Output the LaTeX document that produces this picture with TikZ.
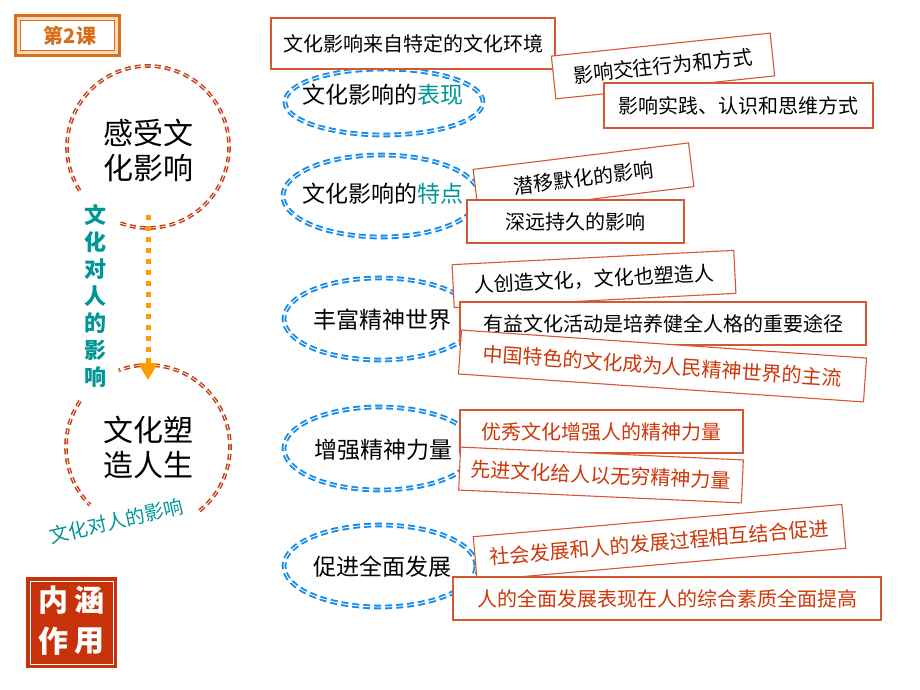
\documentclass[tikz,border=0pt]{standalone}
\usepackage{fontspec}
\setmainfont{Noto Sans CJK SC}
\usetikzlibrary{arrows.meta}
\definecolor{cred}{RGB}{200,60,15}
\definecolor{eblue}{RGB}{20,140,235}
\definecolor{bord}{RGB}{214,88,48}
\definecolor{rtext}{RGB}{205,55,10}
\definecolor{tealc}{RGB}{0,150,150}
\definecolor{aorange}{RGB}{255,155,0}
\definecolor{badgec}{RGB}{215,110,25}
\definecolor{badgeband}{RGB}{248,218,185}
\definecolor{sealc}{RGB}{200,50,10}
\newcommand\myfs[2]{\fontsize{#1}{#2}\selectfont}
\tikzset{
  circdash/.style={draw=cred, line width=1.5pt, double=white, double distance=0.7pt, dash pattern=on 6pt off 4pt},
  elldash/.style={draw=eblue, line width=1.9pt, double=white, double distance=0.9pt, dash pattern=on 7pt off 4pt},
  box/.style={draw=bord, line width=1.1pt, fill=white, inner sep=0pt, font=\myfs{20}{24}},
  rbox/.style={box, text=rtext},
  elltext/.style={font=\myfs{23}{27}, inner sep=0pt},
  circtext/.style={font=\myfs{30}{35}, align=center, inner sep=0pt},
  arr/.style={draw=aorange, line width=5pt, dash pattern=on 5pt off 6pt, -{Triangle[length=17pt,width=19pt]}},
}
\begin{document}
\begin{tikzpicture}[x=1pt,y=1pt]
\useasboundingbox (0,0) rectangle (920,-690);
\fill[white] (0,0) rectangle (920,-690);

% badge top-left
\draw[badgec, line width=2.6pt, fill=badgeband] (15.3,-15.3) rectangle (119.7,-55.7);
\draw[badgec, line width=1.8pt, fill=white] (20.5,-20.5) rectangle (114.5,-50.5);
\node[font=\myfs{20}{24}\bfseries, text=badgec, inner sep=0pt] (badge) at (70,-36) {第2课};

% circle 1
\draw[circdash] (148,-147) ++(250:81) arc[start angle=250, end angle=573, radius=81];
\node[circtext] (c1) at (148,-150) {感受文\\化影响};

% circle 2
\draw[circdash] (148,-447) ++(309:82) arc[start angle=309, end angle=471, radius=82];
\draw[circdash] (148,-447) ++(146:82) arc[start angle=146, end angle=225, radius=82];
\node[circtext] (c2) at (148,-447.5) {文化塑\\造人生};

% vertical teal text
\node[font=\myfs{22}{27}\bfseries, text=tealc, align=center, inner sep=0pt] (vt) at (95,-296) {文\\化\\对\\人\\的\\影\\响};

% arrow
\coordinate (as) at (148,-215);
\coordinate (ae) at (148,-380);
\draw[arr] (as) -- (ae);

% slanted teal text
\node[font=\myfs{19.5}{23}, text=tealc, rotate=13, inner sep=0pt] (st) at (116,-521) {文化对人的影响};

% seal badge
\fill[sealc] (26,-577) rectangle (117,-668);
\draw[white, line width=0.7pt] (30,-581) rectangle (113,-664);
\node[font=\myfs{30}{34}\bfseries, text=white, inner sep=0pt] (s1) at (53,-600) {内};
\node[font=\myfs{30}{34}\bfseries, text=white, inner sep=0pt] (s2) at (89,-600) {涵};
\node[font=\myfs{30}{34}\bfseries, text=white, inner sep=0pt] (s3) at (53,-641) {作};
\node[font=\myfs{30}{34}\bfseries, text=white, inner sep=0pt] (s4) at (89,-641) {用};

% ellipses
\draw[elldash] (384,-102) ellipse[x radius=99, y radius=33];
\draw[elldash] (381,-196) ellipse[x radius=98, y radius=41];
\draw[elldash] (380,-319) ellipse[x radius=96, y radius=41];
\draw[elldash] (380,-448.5) ellipse[x radius=96, y radius=41.5];
\draw[elldash] (380,-566) ellipse[x radius=96, y radius=41];
\node[elltext] (e1) at (383,-95) {文化影响的\textcolor{tealc}{表现}};
\node[elltext] (e2) at (383,-194) {文化影响的\textcolor{tealc}{特点}};
\node[elltext] (e3) at (382,-320) {丰富精神世界};
\node[elltext] (e4) at (383,-450) {增强精神力量};
\node[elltext] (e5) at (382,-567) {促进全面发展};

% boxes
\node[box, minimum width=284pt, minimum height=51pt] (b1) at (413,-43.5) {文化影响来自特定的文化环境};
\node[box, minimum width=220pt, minimum height=43pt, rotate=6] (b2) at (663,-66) {影响交往行为和方式};
\node[box, minimum width=269pt, minimum height=45pt] (b3) at (738.5,-105.5) {影响实践、认识和思维方式};
\node[box, minimum width=217pt, minimum height=44pt, rotate=7] (b4) at (583.5,-178) {潜移默化的影响};
\node[box, minimum width=217pt, minimum height=43pt] (b5) at (575.5,-221.5) {深远持久的影响};
\node[box, minimum width=282pt, minimum height=43pt, rotate=2.9] (b6) at (594,-279) {人创造文化，文化也塑造人};
\node[box, minimum width=406pt, minimum height=43pt] (b7) at (663,-323.5) {有益文化活动是培养健全人格的重要途径};
\node[rbox, minimum width=406pt, minimum height=44pt, rotate=-3.95] (b8) at (662.5,-366) {中国特色的文化成为人民精神世界的主流};
\node[rbox, minimum width=283pt, minimum height=43pt] (b9) at (601.5,-431.5) {优秀文化增强人的精神力量};
\node[rbox, minimum width=283pt, minimum height=43pt, rotate=-2.6] (b10) at (601,-475) {先进文化给人以无穷精神力量};
\node[rbox, minimum width=370pt, minimum height=44pt, rotate=5] (b11) at (659.5,-542.5) {社会发展和人的发展过程相互结合促进};
\node[rbox, minimum width=428pt, minimum height=43pt] (b12) at (667,-598.5) {人的全面发展表现在人的综合素质全面提高};
\end{tikzpicture}
\end{document}
